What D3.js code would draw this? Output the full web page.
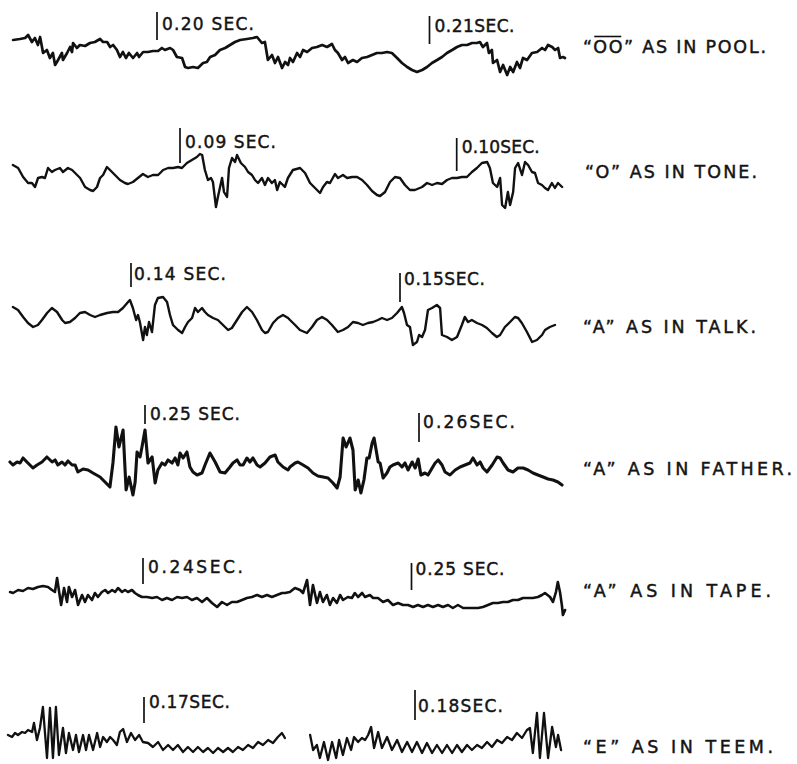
<!DOCTYPE html>
<html>
<head>
<meta charset="utf-8">
<script src="https://cdn.jsdelivr.net/npm/d3@7"></script>
<style>
  body { margin: 0; background: #fff; }
  svg { display: block; }
  text { font-family: "DejaVu Sans", sans-serif; fill: #141414; stroke: #141414; stroke-width: 0.45px; }
</style>
</head>
<body>
<svg id="chart" width="797" height="764"></svg>
<script>
// Vowel wave traces: [time in ms, relative amplitude]
const pool = [[194.72,15],[194.97,16],[195.16,17],[195.27,20],[195.41,13],[195.52,17],[195.63,10],[195.71,18],[195.82,2],[195.96,5],[196.07,-3],[196.18,2],[196.26,-10],[196.37,-5],[196.51,2],[196.55,-5],[196.70,2],[196.81,8],[196.88,3],[196.92,12],[197.06,7],[197.17,10],[197.36,9],[197.54,12],[197.72,13],[197.91,16],[198.02,13],[198.17,13],[198.28,8],[198.39,10],[198.53,5],[198.64,-2],[198.75,3],[198.86,-3],[198.97,2],[199.12,-3],[199.27,2],[199.34,-2],[199.49,3],[199.67,3],[199.85,4],[200.04,4],[200.18,7],[200.29,5],[200.48,7],[200.59,5],[200.73,-2],[200.92,-3],[201.03,-12],[201.14,-13],[201.32,-12],[201.50,-13],[201.69,-8],[201.83,-7],[201.95,-2],[202.13,0],[202.31,5],[202.50,7],[202.68,10],[202.86,13],[203.05,15],[203.30,16],[203.52,17],[203.67,18],[203.85,12],[203.96,13],[204.07,-5],[204.22,0],[204.33,-8],[204.44,-2],[204.59,-13],[204.70,-7],[204.81,-10],[204.88,-3],[204.99,-7],[205.14,2],[205.25,-2],[205.36,5],[205.51,3],[205.69,7],[205.87,8],[206.06,10],[206.24,8],[206.42,11],[206.53,5],[206.64,2],[206.79,-5],[206.90,-2],[207.01,-8],[207.19,-5],[207.34,-7],[207.52,-3],[207.71,-2],[207.89,0],[208.07,2],[208.26,2],[208.44,3],[208.62,2],[208.81,-3],[208.99,-8],[209.18,-12],[209.36,-15],[209.54,-17],[209.73,-15],[209.91,-12],[210.09,-8],[210.28,-5],[210.46,-2],[210.64,2],[210.83,5],[211.01,8],[211.19,10],[211.38,10],[211.56,12],[211.74,12],[211.85,13],[211.96,8],[212.11,12],[212.18,2],[212.29,5],[212.33,-8],[212.48,-5],[212.59,-17],[212.70,-10],[212.85,-20],[212.96,-12],[213.07,-17],[213.21,-7],[213.32,-13],[213.43,-3],[213.58,-5],[213.76,2],[213.95,3],[214.13,7],[214.24,5],[214.35,10],[214.50,8],[214.61,5],[214.72,7],[214.79,-3],[214.90,-2],[214.97,-3]];

const tone = [[83.96,13],[84.15,10],[84.33,1],[84.51,-5],[84.65,-5],[84.76,-9],[84.87,0],[85.01,1],[85.12,0],[85.23,10],[85.37,6],[85.48,8],[85.66,10],[85.77,6],[85.95,10],[86.10,8],[86.21,5],[86.39,0],[86.57,-9],[86.75,-12],[86.86,-13],[87.00,-9],[87.11,0],[87.22,3],[87.36,11],[87.47,8],[87.65,3],[87.83,-2],[88.01,-5],[88.12,-6],[88.30,-4],[88.48,0],[88.66,4],[88.84,1],[89.02,3],[89.21,3],[89.39,8],[89.57,10],[89.75,10],[89.93,11],[90.07,10],[90.25,15],[90.43,18],[90.61,21],[90.72,24],[90.80,23],[90.90,8],[91.01,-2],[91.12,0],[91.19,-4],[91.30,-29],[91.37,-19],[91.52,0],[91.59,-14],[91.70,-19],[91.77,10],[91.88,20],[91.99,16],[92.06,23],[92.20,15],[92.35,11],[92.46,6],[92.60,3],[92.71,-2],[92.82,-5],[92.96,0],[93.07,-7],[93.18,0],[93.32,-5],[93.43,-2],[93.51,-12],[93.61,-4],[93.72,-7],[93.79,-9],[93.90,0],[94.08,8],[94.34,10],[94.52,5],[94.70,-5],[94.88,-10],[95.06,-15],[95.17,-9],[95.31,-4],[95.42,-5],[95.60,4],[95.71,0],[95.89,3],[96.04,0],[96.22,1],[96.40,1],[96.58,-2],[96.76,-7],[96.94,-13],[97.12,-17],[97.23,-18],[97.41,-14],[97.59,-4],[97.77,1],[97.95,0],[98.13,-7],[98.31,-12],[98.49,-12],[98.75,-9],[98.93,-5],[99.11,-7],[99.29,-5],[99.47,-6],[99.65,-2],[99.83,0],[100.01,0],[100.19,1],[100.37,1],[100.55,6],[100.73,10],[100.91,15],[101.10,16],[101.20,10],[101.31,-5],[101.46,-9],[101.57,0],[101.64,-27],[101.75,-30],[101.85,-14],[101.93,-27],[102.04,-14],[102.11,10],[102.22,15],[102.36,3],[102.47,16],[102.58,13],[102.72,6],[102.83,5],[102.94,-5],[103.08,-7],[103.19,-10],[103.30,-12],[103.44,-5],[103.55,-10],[103.66,-5],[103.81,-9]];

const talk = [[135.61,11],[135.80,8],[135.99,1],[136.17,-5],[136.36,-9],[136.54,-7],[136.69,-2],[136.88,5],[137.06,10],[137.25,6],[137.44,-2],[137.55,-5],[137.73,-4],[137.92,0],[138.10,5],[138.29,6],[138.48,3],[138.66,1],[138.85,3],[139.11,5],[139.33,6],[139.52,6],[139.70,10],[139.89,16],[139.96,18],[140.07,10],[140.19,-2],[140.26,3],[140.33,-4],[140.45,-22],[140.52,-9],[140.59,-17],[140.67,-4],[140.78,-14],[140.89,13],[141.00,20],[141.19,21],[141.34,16],[141.45,3],[141.56,-7],[141.75,-12],[141.90,-15],[142.01,-9],[142.12,-4],[142.27,0],[142.38,10],[142.49,6],[142.64,10],[142.75,6],[142.86,3],[143.05,0],[143.23,-2],[143.42,-7],[143.61,-12],[143.75,-10],[143.94,-2],[144.13,6],[144.31,11],[144.50,6],[144.68,-2],[144.87,-12],[144.98,-15],[145.09,-14],[145.28,-5],[145.46,0],[145.65,3],[145.84,0],[145.91,-2],[146.10,-7],[146.28,-12],[146.54,-15],[146.73,-9],[146.91,-2],[147.10,1],[147.29,-2],[147.47,-7],[147.69,-14],[147.88,-12],[148.07,-9],[148.25,-4],[148.44,-5],[148.62,-7],[148.81,-5],[149.00,-4],[149.18,-2],[149.33,0],[149.52,-2],[149.70,0],[149.89,5],[150.07,11],[150.15,5],[150.26,-7],[150.37,-9],[150.48,-27],[150.63,-24],[150.71,-17],[150.82,-19],[150.93,-12],[151.04,8],[151.19,10],[151.37,13],[151.49,10],[151.56,-17],[151.75,-19],[151.93,-22],[152.12,-19],[152.30,-7],[152.41,1],[152.53,-4],[152.67,-2],[152.86,-5],[153.05,-7],[153.23,-10],[153.42,-15],[153.60,-19],[153.72,-17],[153.90,-9],[154.09,-4],[154.27,1],[154.39,0],[154.53,-5],[154.72,-14],[154.91,-24],[155.09,-22],[155.28,-17],[155.39,-12],[155.57,-9],[155.76,-7]];

const father = [[245.07,3],[245.18,0],[245.33,3],[245.44,2],[245.55,7],[245.69,3],[245.80,0],[245.91,-3],[246.06,0],[246.24,3],[246.42,8],[246.61,3],[246.72,5],[246.82,0],[246.97,3],[247.08,0],[247.19,4],[247.34,0],[247.45,0],[247.55,-7],[247.74,-4],[247.92,-5],[248.10,-8],[248.36,-12],[248.54,-17],[248.72,-22],[248.83,2],[248.94,38],[249.05,18],[249.20,35],[249.31,-25],[249.42,-12],[249.56,-30],[249.64,-17],[249.71,13],[249.82,8],[249.89,18],[250.00,35],[250.11,2],[250.26,8],[250.37,-18],[250.47,-5],[250.62,2],[250.73,0],[250.84,5],[250.99,2],[251.10,7],[251.20,0],[251.28,12],[251.39,7],[251.53,13],[251.64,-2],[251.75,-7],[251.90,-10],[252.08,-8],[252.19,0],[252.37,12],[252.56,3],[252.74,-7],[252.92,-8],[253.10,-2],[253.21,2],[253.36,5],[253.47,0],[253.58,0],[253.72,7],[253.83,3],[253.94,7],[254.09,0],[254.20,-2],[254.38,2],[254.56,8],[254.75,10],[254.85,3],[255.04,-2],[255.22,-5],[255.29,-2],[255.48,2],[255.58,3],[255.77,0],[255.95,-3],[256.13,-8],[256.31,-11],[256.50,-12],[256.68,-13],[256.86,-18],[257.01,-23],[257.12,-12],[257.23,27],[257.34,18],[257.48,27],[257.59,15],[257.67,-25],[257.78,-15],[257.88,-28],[257.99,-15],[258.10,7],[258.18,7],[258.29,22],[258.36,27],[258.51,3],[258.58,2],[258.69,-13],[258.83,-8],[258.94,-2],[259.05,0],[259.24,2],[259.38,-2],[259.49,2],[259.60,-5],[259.75,3],[259.86,-3],[259.97,6],[260.07,-10],[260.22,-8],[260.33,-10],[260.48,-3],[260.59,2],[260.70,5],[260.84,0],[260.95,-7],[261.13,-10],[261.32,-5],[261.50,-2],[261.68,0],[261.86,2],[261.97,7],[262.12,0],[262.23,3],[262.34,-3],[262.48,-7],[262.67,0],[262.85,8],[262.96,7],[263.07,2],[263.25,-5],[263.43,-7],[263.61,-3],[263.80,-3],[263.98,-5],[264.16,-8],[264.34,-10],[264.53,-12],[264.71,-14],[264.89,-15],[265.07,-17],[265.22,-20]];

const tape = [[235.05,5],[235.16,4],[235.35,7],[235.53,6],[235.72,9],[235.90,8],[236.09,10],[236.28,11],[236.46,10],[236.61,7],[236.72,5],[236.80,19],[236.95,-8],[237.06,9],[237.17,-5],[237.24,10],[237.36,0],[237.47,7],[237.58,-8],[237.73,2],[237.84,-5],[237.95,2],[238.10,-3],[238.21,4],[238.32,0],[238.47,5],[238.59,7],[238.70,4],[238.85,7],[238.96,5],[239.07,9],[239.22,5],[239.33,7],[239.44,5],[239.59,7],[239.70,4],[239.81,2],[239.96,0],[240.15,0],[240.34,-1],[240.52,0],[240.71,-3],[240.89,-1],[241.08,-3],[241.27,0],[241.45,-1],[241.64,0],[241.82,-3],[242.01,-1],[242.20,-5],[242.38,-1],[242.57,-6],[242.76,-10],[242.94,-5],[243.13,-8],[243.31,-5],[243.50,-5],[243.69,-3],[243.87,-1],[244.06,0],[244.25,2],[244.43,0],[244.62,2],[244.80,0],[244.99,2],[245.18,4],[245.29,4],[245.47,5],[245.66,9],[245.85,7],[245.96,4],[246.11,17],[246.22,-8],[246.33,12],[246.48,-6],[246.59,5],[246.70,-5],[246.85,2],[246.96,-8],[247.08,-1],[247.22,-6],[247.34,2],[247.45,-3],[247.63,0],[247.78,-1],[247.89,4],[248.01,0],[248.16,4],[248.27,0],[248.45,2],[248.57,-1],[248.75,-1],[248.94,-5],[249.12,-3],[249.31,-8],[249.50,-6],[249.68,-8],[249.87,-8],[250.06,-10],[250.24,-8],[250.43,-10],[250.61,-8],[250.80,-10],[250.99,-8],[251.17,-10],[251.36,-8],[251.54,-11],[251.73,-8],[251.92,-11],[252.10,-11],[252.29,-11],[252.48,-11],[252.66,-10],[252.85,-8],[253.03,-6],[253.22,-6],[253.41,-5],[253.59,-5],[253.78,-3],[253.97,-3],[254.15,-1],[254.34,-1],[254.52,-1],[254.71,0],[254.86,2],[254.97,4],[255.16,0],[255.27,-5],[255.38,5],[255.45,15],[255.53,5],[255.60,-8],[255.64,-18],[255.72,-13]];

const teemFirst = [[164.98,10],[165.13,8],[165.24,12],[165.35,10],[165.50,13],[165.61,12],[165.72,15],[165.87,13],[165.94,22],[166.05,5],[166.16,17],[166.27,38],[166.42,-13],[166.53,37],[166.64,-13],[166.75,38],[166.86,-10],[167.01,17],[167.12,-8],[167.23,12],[167.38,-5],[167.49,10],[167.60,-7],[167.75,10],[167.86,-5],[167.97,10],[168.12,-5],[168.27,12],[168.38,-2],[168.49,8],[168.63,3],[168.75,8],[168.86,5],[169.00,0],[169.11,13],[169.23,16],[169.37,3],[169.52,12],[169.67,5],[169.82,10],[169.96,3],[170.15,2],[170.33,-2],[170.52,3],[170.70,-5],[170.89,0],[171.07,-5],[171.25,0],[171.44,-7],[171.62,-2],[171.81,-7],[171.99,-2],[172.18,-7],[172.36,-3],[172.55,-8],[172.73,-3],[172.92,-7],[173.10,-3],[173.28,-7],[173.47,-2],[173.65,-5],[173.84,0],[174.02,-3],[174.21,3],[174.39,0],[174.58,5],[174.76,2],[174.94,8],[175.09,12],[175.20,7]];

const teemSecond = [[176.13,10],[176.24,-5],[176.38,0],[176.49,-13],[176.64,3],[176.79,-15],[176.94,3],[177.09,-13],[177.20,5],[177.34,-10],[177.49,7],[177.64,-5],[177.75,8],[177.90,3],[178.04,7],[178.16,5],[178.27,10],[178.38,18],[178.49,-3],[178.64,13],[178.78,-3],[178.97,8],[179.15,-5],[179.34,5],[179.52,-7],[179.71,3],[179.89,-7],[180.07,3],[180.26,-8],[180.44,2],[180.63,-8],[180.81,0],[181.00,-8],[181.18,0],[181.37,-8],[181.55,0],[181.73,-7],[181.92,0],[182.10,-5],[182.29,0],[182.47,-3],[182.66,3],[182.84,-2],[183.03,5],[183.21,2],[183.40,8],[183.58,5],[183.76,12],[183.95,7],[184.13,15],[184.24,17],[184.35,-8],[184.50,32],[184.61,-13],[184.76,32],[184.91,-13],[185.06,18],[185.20,-2],[185.28,10],[185.39,-5]];

// Timing marks (ms) and their printed labels
const markTimes = [[200, 210], [90, 100], [140, 150], [250, 260], [240, 250], [170, 180]];
const markLabels = [
  ["0.20 SEC.", "0.21SEC."],
  ["0.09 SEC.", "0.10SEC."],
  ["0.14 SEC.", "0.15SEC."],
  ["0.25 SEC.", "0.26SEC."],
  ["0.24SEC.", "0.25 SEC."],
  ["0.17SEC.", "0.18SEC."]
];
const vowelLabels = [
  "\u201COO\u201D AS IN POOL.",
  "\u201CO\u201D AS IN TONE.",
  "\u201CA\u201D AS IN TALK.",
  "\u201CA\u201D AS IN FATHER.",
  "\u201CA\u201D AS IN TAPE.",
  "\u201CE\u201D AS IN TEEM."
];
const traces = [[pool], [tone], [talk], [father], [tape], [teemFirst, teemSecond]];

// Per-row drawing layout
const layout = [
  { base: 55,  x0: 157, x1: 429.5, sw: 2.7, markY: [[12, 40], [16, 44]],     off: [5, 5], labY: [30, 32],   labW: [92, 80], vowel: [583, 53, 183] },
  { base: 178, x0: 180, x1: 456.7, sw: 2.4, markY: [[128, 163], [138, 171]], off: [5, 5], labY: [148, 153], labW: [91, 78], vowel: [585, 178, 172] },
  { base: 318, x0: 131, x1: 400,   sw: 2.4, markY: [[263, 287], [273, 302]], off: [3, 4], labY: [280, 285], labW: [92, 81], vowel: [583, 333, 173] },
  { base: 465, x0: 145, x1: 419,   sw: 3.1, markY: [[405, 424], [413, 442]], off: [5, 4], labY: [420, 428], labW: [90, 92], vowel: [583, 475, 209] },
  { base: 597, x0: 143, x1: 411.5, sw: 2.6, markY: [[558, 584], [563, 590]], off: [5, 4], labY: [573, 575], labW: [95, 89], vowel: [583, 597, 188] },
  { base: 745, x0: 144, x1: 415,   sw: 2.3, markY: [[697, 723], [690, 720]], off: [5, 3], labY: [708, 712], labW: [81, 85], vowel: [583, 753, 190] }
];

const svg = d3.select("#chart");
svg.append("rect").attr("width", 797).attr("height", 764).attr("fill", "#fff");

layout.forEach((L, i) => {
  const g = svg.append("g");
  const x = d3.scaleLinear().domain(markTimes[i]).range([L.x0, L.x1]);
  const y = d3.scaleLinear().domain([-50, 50]).range([L.base + 50, L.base - 50]);
  const line = d3.line().x(d => x(d[0])).y(d => y(d[1]));

  traces[i].forEach(seg => {
    g.append("path")
      .attr("d", line(seg))
      .attr("fill", "none")
      .attr("stroke", "#111")
      .attr("stroke-width", L.sw)
      .attr("stroke-linejoin", "round")
      .attr("stroke-linecap", "round");
  });

  markTimes[i].forEach((t, j) => {
    const mx = x(t);
    g.append("line")
      .attr("x1", mx).attr("x2", mx)
      .attr("y1", L.markY[j][0]).attr("y2", L.markY[j][1])
      .attr("stroke", "#111").attr("stroke-width", 1.7);
    g.append("text")
      .attr("x", mx + L.off[j])
      .attr("y", L.labY[j])
      .attr("font-size", 17)
      .attr("textLength", L.labW[j])
      .attr("lengthAdjust", "spacing")
      .text(markLabels[i][j]);
  });

  const vt = g.append("text")
    .attr("x", L.vowel[0])
    .attr("y", L.vowel[1])
    .attr("font-size", 17.5)
    .attr("textLength", L.vowel[2])
    .attr("lengthAdjust", "spacing")
    .text(vowelLabels[i]);

  // macron over the long "OO"
  if (i === 0) {
    const n = vt.node();
    const a = n.getStartPositionOfChar(1).x;
    const b = n.getEndPositionOfChar(2).x;
    g.append("line")
      .attr("x1", a + 1).attr("x2", b - 1)
      .attr("y1", L.vowel[1] - 16.5).attr("y2", L.vowel[1] - 16.5)
      .attr("stroke", "#111").attr("stroke-width", 1.6);
  }
});
</script>
</body>
</html>
